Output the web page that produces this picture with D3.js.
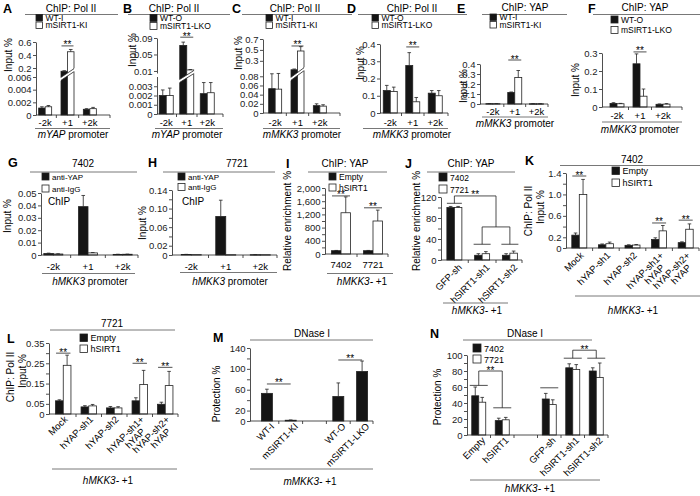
<!DOCTYPE html>
<html>
<head>
<meta charset="utf-8">
<script src="https://cdn.jsdelivr.net/npm/d3@7"></script>
<style>
  body { margin: 0; background: #fff; }
  svg { font-family: Arial, "Liberation Sans", sans-serif; }
</style>
</head>
<body>
<svg id="fig" width="700" height="496"></svg>
<script>
// ---- categories ----
const promoterCats = ["-2k", "+1", "+2k"];
const cellCats = ["7402", "7721"];
const shCats = ["GFP-sh", "hSIRT1-sh1", "hSIRT1-sh2"];
const yapCats = ["Mock", "hYAP-sh1", "hYAP-sh2", "hYAP-sh1+\nhYAP", "hYAP-sh2+\nhYAP"];
const mouseCats = ["WT-I", "mSIRT1-KI", "", "WT-O", "mSIRT1-LKO"];
const dnaseCats = ["Empty", "hSIRT1", "", "GFP-sh", "hSIRT1-sh1", "hSIRT1-sh2"];

// ---- A ----
const aWT = [0.0011, 0.15, 0.0009], aWTErr = [0.0002, 0.008, 0.0001];
const aKI = [0.0013, 0.45, 0.001], aKIErr = [0.0002, 0.035, 0.0002];
const aTicks = [0, 0.002, 0.004, 0.006, 0.2, 0.4, 0.6];
const aTickLabels = ["0", "0.002", "0.004", "0.006", "0.2", "0.4", "0.6"];
// ---- B ----
const bWT = [0.002, 0.072, 0.0022], bWTErr = [0.0006, 0.008, 0.0012];
const bLKO = [0.002, 0.0125, 0.0023], bLKOErr = [0.0008, 0.001, 0.0011];
const bTicks = [0, 0.001, 0.002, 0.003, 0.01, 0.05, 0.09];
const bTickLabels = ["0", "0.001", "0.002", "0.003", "0.01", "0.05", "0.09"];
// ---- C ----
const cWT = [0.053, 0.14, 0.016], cWTErr = [0.035, 0.01, 0.004];
const cKI = [0.052, 0.48, 0.015], cKIErr = [0.04, 0.08, 0.003];
const cTicks = [0, 0.02, 0.04, 0.06, 0.08, 0.3, 0.5, 0.7];
const cTickLabels = ["0", "0.02", "0.04", "0.06", "0.08", "0.3", "0.5", "0.7"];
// ---- D ----
const dWT = [0.13, 0.275, 0.115], dWTErr = [0.03, 0.075, 0.015];
const dLKO = [0.125, 0.065, 0.1], dLKOErr = [0.025, 0.025, 0.03];
const dTicks = [0, 0.1, 0.2, 0.3, 0.4];
const dTickLabels = ["0", "0.1", "0.2", "0.3", "0.4"];
// ---- E ----
const eWT = [0.003, 0.115, 0.002], eWTErr = [0.001, 0.005, 0.001];
const eKI = [0.003, 0.265, 0.002], eKIErr = [0.001, 0.07, 0.001];
const eTicks = [0, 0.1, 0.2, 0.3, 0.4];
const eTickLabels = ["0", "0.1", "0.2", "0.3", "0.4"];
// ---- F ----
const fWT = [0.02, 0.24, 0.015], fWTErr = [0.004, 0.055, 0.002];
const fLKO = [0.018, 0.06, 0.016], fLKOErr = [0.002, 0.04, 0.003];
const fTicks = [0, 0.1, 0.2, 0.3];
const fTickLabels = ["0", "0.1", "0.2", "0.3"];
// ---- G ----
const gYAP = [0.0012, 0.039, 0.0005], gYAPErr = [0.0003, 0.009, 0.0001];
const gIgG = [0.0008, 0.0017, 0.0006], gIgGErr = [0.0002, 0.0003, 0.0001];
const gTicks = [0, 0.01, 0.02, 0.03, 0.04, 0.05];
const gTickLabels = ["0", "0.01", "0.02", "0.03", "0.04", "0.05"];
// ---- H ----
const hYAP = [0.0012, 0.083, 0.0006], hYAPErr = [0.0002, 0.035, 0.0001];
const hIgG = [0.0008, 0.0006, 0.0006], hIgGErr = [0, 0, 0];
const hTicks = [0, 0.02, 0.04, 0.06, 0.08, 0.1, 0.12, 0.14];
const hTickLabels = ["0", "0.02", "", "0.06", "", "0.10", "", "0.14"];
// ---- I ----
const iEmpty = [100, 100], iEmptyErr = [8, 8];
const iSIRT1 = [1250, 1000], iSIRT1Err = [480, 330];
const iTicks = [0, 200, 400, 600, 800, 1000, 1200, 1400, 1600, 1800, 2000];
const iTickLabels = ["0", "", "400", "", "800", "", "1,200", "", "1,600", "", "2,000"];
// ---- J ----
const j7402 = [100, 9, 9], j7402Err = [2, 3, 3];
const j7721 = [100, 12, 13], j7721Err = [2, 4, 4];
const jTicks = [0, 20, 40, 60, 80, 100, 120];
const jTickLabels = ["0", "", "40", "", "80", "", "120"];
// ---- K ----
const kEmpty = [0.24, 0.06, 0.05, 0.16, 0.1], kEmptyErr = [0.04, 0.015, 0.01, 0.03, 0.015];
const kSIRT1 = [1.0, 0.08, 0.055, 0.32, 0.35], kSIRT1Err = [0.28, 0.03, 0.01, 0.1, 0.1];
const kTicks = [0, 0.2, 0.4, 0.6, 0.8, 1.0, 1.2, 1.4];
const kTickLabels = ["0", "0.2", "", "0.6", "", "1.0", "", "1.4"];
// ---- L ----
const lEmpty = [0.065, 0.035, 0.03, 0.065, 0.048], lEmptyErr = [0.005, 0.006, 0.007, 0.015, 0.01];
const lSIRT1 = [0.24, 0.04, 0.03, 0.145, 0.14], lSIRT1Err = [0.05, 0.007, 0.006, 0.07, 0.07];
const lTicks = [0, 0.05, 0.1, 0.15, 0.2, 0.25, 0.3, 0.35];
const lTickLabels = ["0", "0.05", "", "0.15", "", "0.25", "", "0.35"];
// ---- M ----
const mProt = [53, 1.5, null, 47, 95], mProtErr = [8, 0.5, null, 26, 20];
const mTicks = [0, 20, 40, 60, 80, 100, 120, 140];
const mTickLabels = ["0", "20", "", "60", "", "100", "", "140"];
// ---- N ----
const n7402 = [49, 18, null, 45, 84, 80], n7402Err = [11, 3, null, 7, 5, 4];
const n7721 = [41, 19, null, 38, 82, 72], n7721Err = [6, 3, null, 6, 6, 18];
const nTicks = [0, 10, 20, 30, 40, 50, 60, 70, 80, 90, 100];
const nTickLabels = ["0", "", "20", "", "40", "", "60", "", "80", "", "100"];

const BLK = '#151515', WHT = '#ffffff', INK = '#222', RULE = '#555';
const svg = d3.select('#fig');

function seg(g, pts, color, w) {
  g.append('path').attr('d', d3.line()(pts)).attr('fill', 'none')
    .attr('stroke', color || INK).attr('stroke-width', w || 0.8);
}

function stars(g, xm, ly) {
  g.append('text').attr('x', xm).attr('y', ly + 2.5).attr('text-anchor', 'middle')
    .attr('font-size', 10).text('**');
}

function panel(c) {
  const g = svg.append('g');
  const y = d3.scaleLinear().domain(c.yDomain).range(c.yRange);
  const x = d3.scaleBand().domain(d3.range(c.cats.length)).range(c.band);
  const ns = c.series.length, bw = c.barW;
  const cx = i => x(i) + x.bandwidth() / 2;
  const bx = (i, k) => cx(i) - bw * ns / 2 + k * bw;
  const gx = i => [bx(i, 0), cx(i), bx(i, ns - 1) + bw];
  const y0 = y(0);

  // letter + title
  g.append('text').attr('x', c.letter[1]).attr('y', c.letter[2])
    .attr('font-size', 12.5).attr('font-weight', 'bold').text(c.letter[0]);
  g.append('text').attr('x', c.title[1]).attr('y', c.title[2])
    .attr('text-anchor', 'middle').attr('font-size', 10).text(c.title[0]);
  seg(g, [[c.tline[0], c.tline[2]], [c.tline[1], c.tline[2]]], RULE);

  // legend
  if (c.legend) {
    const L = c.legend;
    L.items.forEach(([t, f], k) => {
      g.append('rect').attr('x', L.x).attr('y', L.y[k]).attr('width', L.s).attr('height', L.s)
        .attr('fill', f).attr('stroke', INK).attr('stroke-width', 0.8);
      g.append('text').attr('x', L.x + L.s + 3).attr('y', L.y[k] + L.s - 0.5)
        .attr('font-size', L.fs).text(t);
    });
  }

  // y label(s)
  c.ylab.forEach(([t, lx, ly]) => {
    g.append('text').attr('transform', `translate(${lx},${ly}) rotate(-90)`)
      .attr('text-anchor', 'middle').attr('dy', '0.35em').attr('font-size', 10).text(t);
  });

  // bars
  c.series.forEach((s, k) => {
    const idx = d3.range(c.cats.length).filter(i => s.v[i] != null);
    g.selectAll(null).data(idx).join('rect')
      .attr('x', i => bx(i, k)).attr('y', i => y(s.v[i]))
      .attr('width', bw).attr('height', i => Math.max(0.4, y0 - y(s.v[i])))
      .attr('fill', s.f).attr('stroke', INK).attr('stroke-width', 0.8);
    idx.forEach(i => {
      if (!s.e[i]) return;
      const xm = bx(i, k) + bw / 2, yt = y(s.v[i] + s.e[i]);
      seg(g, [[xm, y(s.v[i])], [xm, yt]]);
      seg(g, [[xm - 1.8, yt], [xm + 1.8, yt]]);
    });
  });

  // broken-axis marker through a tall group
  if (c.brk) {
    const [i, yl, yr, gap] = c.brk;
    const x0 = bx(i, 0) - 1, x1 = bx(i, ns - 1) + bw + 1;
    const sl = (yl - yr) / (x1 - x0);
    g.append('path').attr('d', `M${x0},${yl}L${x1},${yr}L${x1},${yr + gap}L${x0},${yl + gap}Z`)
      .attr('fill', '#fff');
    seg(g, [[x0 + 1, yl - sl], [x1 - 1, yr + sl]]);
    seg(g, [[x0 + 1, yl + gap - sl], [x1 - 1, yr + gap + sl]]);
  }

  // x axis line with group ticks
  seg(g, [[c.ax, y0], [c.xEnd, y0]]);
  d3.range(1, c.cats.length).forEach(i => seg(g, [[x(i), y0], [x(i), y0 + 3]]));
  seg(g, [[c.xEnd, y0], [c.xEnd, y0 + 3]]);

  // y axis
  const ax = g.append('g').attr('transform', `translate(${c.ax},0)`)
    .call(d3.axisLeft(y).tickValues(c.ticks).tickSize(3).tickSizeOuter(0)
      .tickFormat((d, i) => c.tickLabels[i]));
  ax.attr('font-family', null).attr('font-size', c.tfs || 9.5).attr('color', INK);
  ax.selectAll('line, path').attr('stroke-width', 0.8);
  ax.selectAll('text').attr('x', -4.5);
  if (c.gap) {
    g.append('rect').attr('x', c.ax - 2).attr('y', c.gap[0]).attr('width', 4)
      .attr('height', c.gap[1] - c.gap[0]).attr('fill', '#fff');
  }

  // category labels
  c.cats.forEach((t, i) => {
    if (!t) return;
    if (c.rot) {
      const tx = g.append('text')
        .attr('transform', `translate(${cx(i) + c.rot[0]},${y0 + c.rot[1]}) rotate(-45)`)
        .attr('text-anchor', 'end').attr('font-size', 9.5);
      t.split('\n').forEach((l, k) => tx.append('tspan')
        .attr('x', k ? -8 : 0).attr('dy', k ? '1em' : 0).text(l));
    } else {
      g.append('text').attr('x', cx(i)).attr('y', c.catY)
        .attr('text-anchor', 'middle').attr('font-size', 9.5).text(t);
    }
  });

  // bottom underline + label
  seg(g, [[c.under[0], c.under[2]], [c.under[1], c.under[2]]], RULE);
  const bl = g.append('text').attr('x', c.bottom[2]).attr('y', c.bottom[3])
    .attr('text-anchor', 'middle').attr('font-size', 10);
  bl.append('tspan').attr('font-style', 'italic').text(c.bottom[0]);
  bl.append('tspan').text(c.bottom[1]);

  // significance marks
  (c.stars || []).forEach(([i0, i1, v]) => {
    const x0 = i0 === i1 ? gx(i0)[0] + 0.5 : cx(i0);
    const x1 = i0 === i1 ? gx(i1)[2] - 0.5 : cx(i1);
    seg(g, [[x0, y(v)], [x1, y(v)]]);
    stars(g, (x0 + x1) / 2, y(v));
  });

  (c.notes || []).forEach(([t, nx, ny, fs]) =>
    g.append('text').attr('x', nx).attr('y', ny).attr('font-size', fs).text(t));

  if (c.extra) c.extra(g, y, gx);
}

const legWTI = [["WT-I", BLK], ["mSIRT1-KI", WHT]];
const legWTO = [["WT-O", BLK], ["mSIRT1-LKO", WHT]];
const legIgG = [["anti-YAP", BLK], ["anti-IgG", WHT]];
const legSIRT = [["Empty", BLK], ["hSIRT1", WHT]];
const legCell = [["7402", BLK], ["7721", WHT]];

// A
panel({
  letter: ["A", 3, 13], title: ["ChIP: Pol II", 71, 11.5], tline: [25, 118, 14.5],
  legend: { x: 36, y: [14.5, 22], s: 6.5, fs: 8.5, items: legWTI },
  ylab: [["Input %", 8, 55]], ax: 36, xEnd: 110, band: [34, 101], barW: 6.5,
  yDomain: [0, 0.006, 0.1, 0.6], yRange: [115, 77, 74.5, 42],
  ticks: aTicks, tickLabels: aTickLabels, cats: promoterCats, catY: 126,
  under: [35, 110, 128.5], bottom: ["mYAP", " promoter", 73, 137.5],
  series: [{ v: aWT, e: aWTErr, f: BLK }, { v: aKI, e: aKIErr, f: WHT }],
  stars: [[1, 1, 0.54]], brk: [1, 78, 68, 3]
});
// B
panel({
  letter: ["B", 123, 13], title: ["ChIP: Pol II", 174, 11.5], tline: [128, 230, 14.5],
  legend: { x: 150, y: [14.5, 22.5], s: 7, fs: 8.5, items: legWTO },
  ylab: [["Input %", 132, 50]], ax: 157, xEnd: 223, band: [156, 217.5], barW: 7,
  yDomain: [0, 0.004, 0.007, 0.09], yRange: [114, 77, 72.2, 38],
  ticks: bTicks, tickLabels: bTickLabels, cats: promoterCats, catY: 126,
  under: [155, 223, 128.5], bottom: ["mYAP", " promoter", 187, 137.5],
  series: [{ v: bWT, e: bWTErr, f: BLK }, { v: bLKO, e: bLKOErr, f: WHT }],
  stars: [[1, 1, 0.092]], brk: [1, 80, 70, 3], gap: [73.5, 77]
});
// C
panel({
  letter: ["C", 232, 13], title: ["ChIP: Pol II", 295, 11.5], tline: [242, 352, 14.5],
  legend: { x: 266, y: [14.5, 22], s: 6.5, fs: 8.5, items: legWTI },
  ylab: [["Input %", 238, 53]], ax: 263, xEnd: 340, band: [264, 331], barW: 6.5,
  yDomain: [0, 0.085, 0.15, 0.7], yRange: [113, 74, 69, 39],
  ticks: cTicks, tickLabels: cTickLabels, cats: promoterCats, catY: 126,
  under: [263, 340, 128.5], bottom: ["mMKK3", " promoter", 302, 137.5],
  series: [{ v: cWT, e: cWTErr, f: BLK }, { v: cKI, e: cKIErr, f: WHT }],
  stars: [[1, 1, 0.572]], brk: [1, 78, 67, 3]
});
// D
panel({
  letter: ["D", 347, 13], title: ["ChIP: Pol II", 412, 11.5], tline: [358, 467, 14.5],
  legend: { x: 372, y: [14.5, 22], s: 6.5, fs: 8.5, items: legWTO },
  ylab: [["Input %", 360, 63]], ax: 380, xEnd: 448, band: [379, 446.5], barW: 7,
  yDomain: [0, 0.4], yRange: [113, 44],
  ticks: dTicks, tickLabels: dTickLabels, cats: promoterCats, catY: 126,
  under: [363, 448, 128.5], bottom: ["mMKK3", " promoter", 412, 137.5],
  series: [{ v: dWT, e: dWTErr, f: BLK }, { v: dLKO, e: dLKOErr, f: WHT }],
  stars: [[1, 1, 0.383]]
});
// E
panel({
  letter: ["E", 457, 13], title: ["ChIP: YAP", 525, 11], tline: [482, 567, 14.5],
  legend: { x: 490, y: [14, 21.5], s: 6.5, fs: 8.5, items: legWTI },
  ylab: [["Input %", 463, 86]], ax: 480, xEnd: 548, band: [482, 547.5], barW: 7,
  yDomain: [0, 0.4], yRange: [104, 64],
  ticks: eTicks, tickLabels: eTickLabels, cats: promoterCats, catY: 114.5,
  under: [482, 548, 117], bottom: ["mMKK3", " promoter", 515, 127],
  series: [{ v: eWT, e: eWTErr, f: BLK }, { v: eKI, e: eKIErr, f: WHT }],
  stars: [[1, 1, 0.44]]
});
// F
panel({
  letter: ["F", 588, 13], title: ["ChIP: YAP", 645, 11], tline: [593, 700, 14.5],
  legend: { x: 611, y: [16, 26.5], s: 7, fs: 8.5, items: legWTO },
  ylab: [["Input %", 575, 80]], ax: 602, xEnd: 682, band: [605.5, 674.5], barW: 7,
  yDomain: [0, 0.3], yRange: [107, 53],
  ticks: fTicks, tickLabels: fTickLabels, cats: promoterCats, catY: 118.5,
  under: [602, 682, 122], bottom: ["mMKK3", " promoter", 640, 133],
  series: [{ v: fWT, e: fWTErr, f: BLK }, { v: fLKO, e: fLKOErr, f: WHT }],
  stars: [[1, 1, 0.306]]
});
// G
panel({
  letter: ["G", 8, 167], title: ["7402", 83, 167], tline: [30, 137, 172],
  legend: { x: 42, y: [173, 185], s: 7, fs: 8, items: legIgG },
  ylab: [["Input %", 7, 216]], ax: 41, xEnd: 138, band: [36, 140], barW: 9.5,
  yDomain: [0, 0.05], yRange: [255, 193],
  ticks: gTicks, tickLabels: gTickLabels, cats: promoterCats, catY: 270,
  under: [42, 135, 273.5], bottom: ["hMKK3", " promoter", 90, 285],
  series: [{ v: gYAP, e: gYAPErr, f: BLK }, { v: gIgG, e: gIgGErr, f: WHT }],
  notes: [["ChIP", 48, 205, 10]]
});
// H
panel({
  letter: ["H", 148, 167], title: ["7721", 237, 167], tline: [163, 275, 172],
  legend: { x: 178, y: [173, 183.5], s: 7, fs: 8, items: legIgG },
  ylab: [["Input %", 142, 223]], ax: 172, xEnd: 277, band: [174, 277.5], barW: 10,
  yDomain: [0, 0.14], yRange: [255, 190],
  ticks: hTicks, tickLabels: hTickLabels, cats: promoterCats, catY: 270,
  under: [180, 277, 272.5], bottom: ["hMKK3", " promoter", 230, 285],
  series: [{ v: hYAP, e: hYAPErr, f: BLK }, { v: hIgG, e: hIgGErr, f: WHT }],
  notes: [["ChIP", 182, 205, 10]]
});
// I
panel({
  letter: ["I", 286, 168], title: ["ChIP: YAP", 345, 167], tline: [308, 387, 172],
  legend: { x: 329, y: [173, 184], s: 7, fs: 8.5, items: legSIRT },
  ylab: [["Relative enrichment %", 287, 221]], ax: 325, xEnd: 388, band: [325, 389], barW: 9.5,
  yDomain: [0, 2000], yRange: [254, 188],
  ticks: iTicks, tickLabels: iTickLabels, cats: cellCats, catY: 268,
  under: [327, 393, 273.5], bottom: ["hMKK3-", " +1", 362, 285],
  series: [{ v: iEmpty, e: iEmptyErr, f: BLK }, { v: iSIRT1, e: iSIRT1Err, f: WHT }],
  stars: [[0, 0, 1760], [1, 1, 1400]]
});
// J
panel({
  letter: ["J", 405, 168], title: ["ChIP: YAP", 471, 167], tline: [427, 515, 172],
  legend: { x: 439, y: [173, 185], s: 8, fs: 8.5, items: legCell },
  ylab: [["Relative enrichment %", 416, 221]], ax: 441, xEnd: 522, band: [440.5, 523.75], barW: 7.5,
  yDomain: [0, 120], yRange: [260, 197],
  ticks: jTicks, tickLabels: jTickLabels, cats: shCats, rot: [8, 8],
  under: [443, 508, 303], bottom: ["hMKK3-", " +1", 477, 314],
  series: [{ v: j7402, e: j7402Err, f: BLK }, { v: j7721, e: j7721Err, f: WHT }],
  extra: (g, y, gx) => {
    const [l0, c0, r0] = gx(0), [l1, c1, r1] = gx(1), [l2, c2, r2] = gx(2);
    const mid = (c1 + c2) / 2;
    seg(g, [[l0, y(108)], [r0, y(108)]]);
    seg(g, [[c0, y(108)], [c0, y(122)], [mid, y(122)], [mid, y(63)]]);
    seg(g, [[c1, y(30)], [c1, y(63)], [c2, y(63)], [c2, y(30)]]);
    seg(g, [[l1 - 1, y(30)], [r1 + 1, y(30)]]);
    seg(g, [[l2 - 1, y(30)], [r2 + 1, y(30)]]);
    stars(g, (c0 + mid) / 2, y(122));
  }
});
// K
panel({
  letter: ["K", 525, 165], title: ["7402", 632, 163], tline: [560, 700, 165.5],
  legend: { x: 612, y: [167, 179], s: 7.5, fs: 9, items: legSIRT },
  ylab: [["ChIP: Pol II", 528, 211], ["Input %", 540, 207]], ax: 566, xEnd: 699, band: [566, 699], barW: 7.5,
  yDomain: [0, 1.4], yRange: [248, 173],
  ticks: kTicks, tickLabels: kTickLabels, cats: yapCats, rot: [5, 8],
  under: [575, 700, 296], bottom: ["hMKK3-", " +1", 633, 314],
  series: [{ v: kEmpty, e: kEmptyErr, f: BLK }, { v: kSIRT1, e: kSIRT1Err, f: WHT }],
  stars: [[0, 0, 1.344], [3, 3, 0.467], [4, 4, 0.52]]
});
// L
panel({
  letter: ["L", 7, 343], title: ["7721", 112, 327], tline: [50, 175, 330],
  legend: { x: 80, y: [334, 345], s: 7.5, fs: 9, items: legSIRT },
  ylab: [["ChIP: Pol II", 10, 377], ["Input %", 22, 371]], ax: 49, xEnd: 178, band: [50.5, 178], barW: 7.7,
  yDomain: [0, 0.35], yRange: [414, 343],
  ticks: lTicks, tickLabels: lTickLabels, cats: yapCats, rot: [5, 6],
  under: [52, 177, 469], bottom: ["hMKK3-", " +1", 108, 484],
  series: [{ v: lEmpty, e: lEmptyErr, f: BLK }, { v: lSIRT1, e: lSIRT1Err, f: WHT }],
  stars: [[0, 0, 0.30], [3, 3, 0.25], [4, 4, 0.23]]
});
// M
panel({
  letter: ["M", 213, 342], title: ["DNase I", 312, 337], tline: [250, 373, 340],
  ylab: [["Protection %", 216, 394]], ax: 250, xEnd: 373, band: [255, 374], barW: 11,
  yDomain: [0, 140], yRange: [421, 348],
  ticks: mTicks, tickLabels: mTickLabels, cats: mouseCats, rot: [8, 6],
  under: [250, 373, 469], bottom: ["mMKK3-", " +1", 310, 485],
  series: [{ v: mProt, e: mProtErr, f: BLK }],
  stars: [[0, 1, 71], [3, 4, 117]]
});
// N
panel({
  letter: ["N", 430, 338], title: ["DNase I", 525, 337], tline: [463, 592, 340],
  legend: { x: 473, y: [344, 355], s: 8, fs: 9, items: legCell },
  ylab: [["Protection %", 437, 397]], ax: 467, xEnd: 608, band: [467, 608], barW: 7,
  yDomain: [0, 100], yRange: [435, 355],
  ticks: nTicks, tickLabels: nTickLabels, cats: dnaseCats, rot: [7, 6],
  under: [470, 600, 480], bottom: ["hMKK3-", " +1", 530, 492],
  series: [{ v: n7402, e: n7402Err, f: BLK }, { v: n7721, e: n7721Err, f: WHT }],
  extra: (g, y, gx) => {
    const [l0, c0, r0] = gx(0), [l1, c1, r1] = gx(1), [l3, , r3] = gx(3);
    const [l4, c4, r4] = gx(4), [l5, c5, r5] = gx(5);
    seg(g, [[l0 - 2, y(62)], [r0 + 2, y(62)]]);
    seg(g, [[c0, y(62)], [c0, y(80)], [c1, y(80)], [c1, y(34)]]);
    seg(g, [[l1 - 2, y(34)], [r1 + 2, y(34)]]);
    seg(g, [[l3 - 2, y(59)], [r3 + 2, y(59)]]);
    seg(g, [[l4 - 2, y(96)], [r4 + 2, y(96)]]);
    seg(g, [[l5 - 2, y(96)], [r5 + 2, y(96)]]);
    seg(g, [[c4, y(96)], [c4, y(106)], [c5, y(106)], [c5, y(96)]]);
    stars(g, (c0 + c1) / 2, y(80));
    stars(g, (c4 + c5) / 2, y(106));
  }
});
</script>
</body>
</html>
